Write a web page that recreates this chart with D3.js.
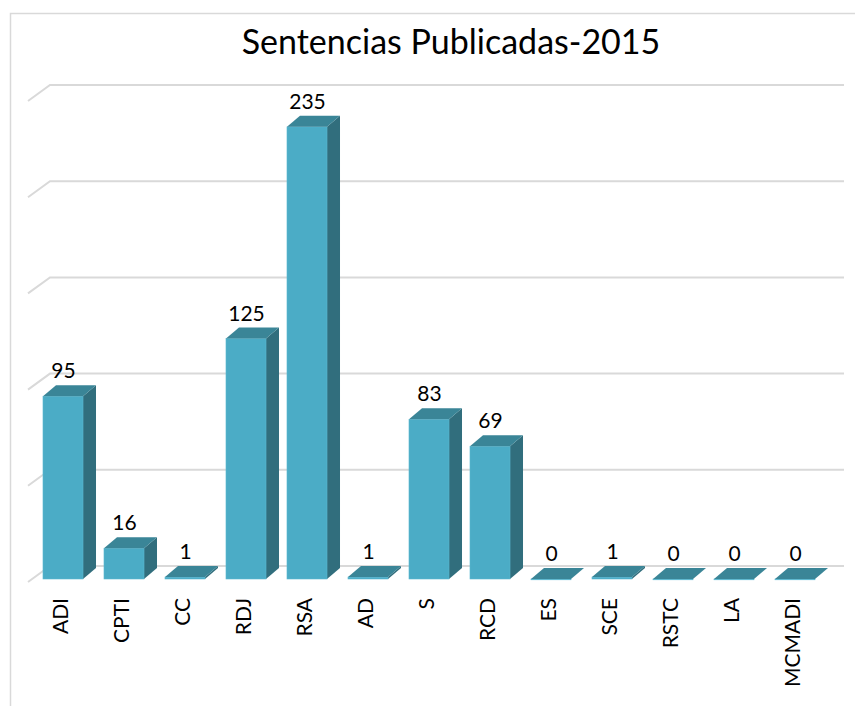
<!DOCTYPE html>
<html>
<head>
<meta charset="utf-8">
<script src="https://cdn.jsdelivr.net/npm/d3@7"></script>
<style>
  html, body { margin: 0; padding: 0; background: #fff; }
  svg { display: block; font-family: Lato, 'Open Sans', sans-serif; }
</style>
</head>
<body>
<script>
const categories = ['ADI', 'CPTI', 'CC', 'RDJ', 'RSA', 'AD', 'S', 'RCD', 'ES', 'SCE', 'RSTC', 'LA', 'MCMADI'];
const values = [95, 16, 1, 125, 235, 1, 83, 69, 0, 1, 0, 0, 0];
const gridTicks = [0, 50, 100, 150, 200, 250];
const title = 'Sentencias Publicadas-2015';

const width = 855;
const height = 706;

// 3d offsets
const depth = { dx: 13, dy: -11 };
const wallShift = 13;       // back wall sits this far above the front baseline
const wallLeft = 50;
const slant = { dx: 22, dy: 16 };

const x = d3.scaleBand()
  .domain(categories)
  .range([32.5, 825.5])
  .paddingInner(0.344)
  .paddingOuter(0.172);

const y = d3.scaleLinear()
  .domain([0, 250])
  .range([579, 98]);

const svg = d3.select('body').append('svg')
  .attr('width', width)
  .attr('height', height);

// chart border (runs off the right and bottom edges)
svg.append('rect')
  .attr('x', 10.5).attr('y', 13.5)
  .attr('width', 900).attr('height', 800)
  .attr('fill', 'none')
  .attr('stroke', '#d9d9d9')
  .attr('stroke-width', 1.5);

svg.append('text')
  .attr('x', 451).attr('y', 54)
  .attr('text-anchor', 'middle')
  .attr('font-size', 34)
  .attr('fill', '#000')
  .text(title);

// gridlines on the back wall with the slanted side segment
const grid = svg.append('g')
  .attr('fill', 'none')
  .attr('stroke', '#d9d9d9')
  .attr('stroke-width', 2);

grid.selectAll('path')
  .data(gridTicks)
  .join('path')
    .attr('d', d => {
      const yb = y(d) - wallShift;
      return `M${wallLeft - slant.dx},${yb + slant.dy}L${wallLeft},${yb}L844,${yb}`;
    });

// bars
const bars = svg.append('g')
  .selectAll('g')
  .data(categories.map((c, i) => ({ cat: c, value: values[i] })))
  .join('g');

bars.append('path')   // side
  .attr('fill', '#316e7d')
  .attr('d', d => {
    const x1 = x(d.cat) + x.bandwidth();
    return `M${x1},${y(0)}L${x1},${y(d.value)}L${x1 + depth.dx},${y(d.value) + depth.dy}L${x1 + depth.dx},${y(0) + depth.dy}Z`;
  });

bars.append('rect')   // front
  .attr('fill', '#4bacc6')
  .attr('stroke', '#5cb8d0')
  .attr('stroke-width', 0.6)
  .attr('x', d => x(d.cat))
  .attr('y', d => y(d.value))
  .attr('width', x.bandwidth())
  .attr('height', d => Math.max(0.8, y(0) - y(d.value)));

bars.append('path')   // top
  .attr('fill', '#3a8597')
  .attr('d', d => {
    const x0 = x(d.cat), x1 = x0 + x.bandwidth(), yt = y(d.value);
    return `M${x0},${yt}L${x1},${yt}L${x1 + depth.dx},${yt + depth.dy}L${x0 + depth.dx},${yt + depth.dy}Z`;
  });

bars.append('text')
  .attr('x', d => x(d.cat) + x.bandwidth() / 2 + 0.5)
  .attr('y', d => y(d.value) - 18)
  .attr('text-anchor', 'middle')
  .attr('font-size', 21)
  .attr('fill', '#000')
  .text(d => d.value);

// category labels, rotated
svg.append('g')
  .selectAll('text')
  .data(categories)
  .join('text')
    .attr('transform', d => `translate(${x(d) + x.bandwidth() / 2 - 2},598) rotate(-90)`)
    .attr('dy', '0.35em')
    .attr('text-anchor', 'end')
    .attr('font-size', 21)
    .attr('fill', '#000')
    .text(d => d);
</script>
</body>
</html>
